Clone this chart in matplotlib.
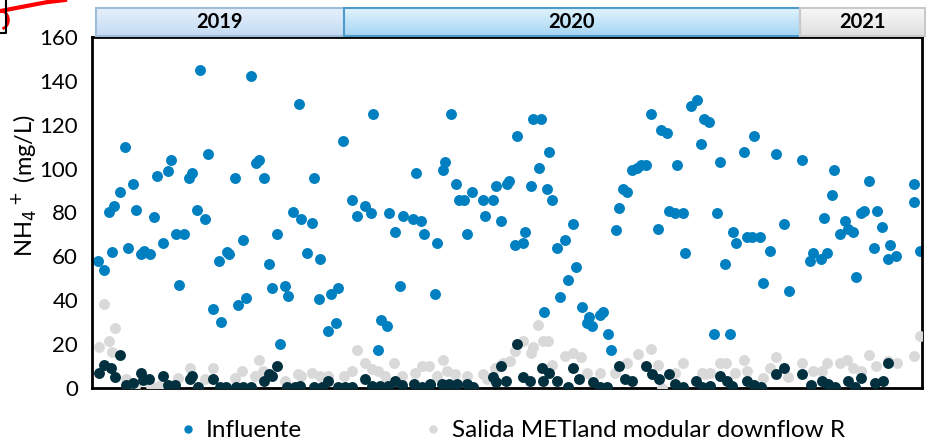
import matplotlib
matplotlib.use("Agg")
import matplotlib.pyplot as plt
import numpy as np
from matplotlib.patches import Rectangle
from matplotlib.lines import Line2D

plt.rcParams['font.family'] = ['Lato', 'DejaVu Sans']

# time axis in months counted from Jan 2019 (12 = Jan 2020, 24 = Jan 2021)
x_inf = [5.53, 5.68, 5.82, 5.89, 5.95, 6.11, 6.24, 6.32, 6.45, 6.53, 6.66, 6.74, 6.89, 7.00,
         7.08, 7.24, 7.37, 7.45, 7.58, 7.66, 7.79, 7.92, 8.00, 8.13, 8.21, 8.34, 8.42, 8.55,
         8.71, 8.76, 8.92, 8.97, 9.13, 9.21, 9.34, 9.42, 9.55, 9.68, 9.76, 9.89, 10.03, 10.11,
         10.24, 10.32, 10.45, 10.53, 10.66, 10.82, 10.87, 11.03, 11.16, 11.21, 11.34, 11.38,
         11.58, 11.66, 11.79, 11.84, 11.97, 12.21, 12.34, 12.55, 12.71, 12.76, 12.89, 12.97,
         13.13, 13.18, 13.34, 13.47, 13.55, 13.82, 13.89, 14.03, 14.11, 14.26, 14.39, 14.45,
         14.61, 14.66, 14.82, 14.95, 15.03, 15.16, 15.24, 15.37, 15.66, 15.71, 15.92, 16.00,
         16.13, 16.29, 16.34, 16.50, 16.55, 16.71, 16.76, 16.92, 16.97, 17.13, 17.18, 17.26,
         17.34, 17.39, 17.47, 17.61, 17.68, 17.82, 17.89, 18.03, 18.11, 18.26, 18.39, 18.45,
         18.53, 18.74, 18.82, 18.95, 19.03, 19.16, 19.24, 19.34, 19.45, 19.58, 19.71, 19.82,
         19.95, 20.08, 20.26, 20.34, 20.50, 20.55, 20.71, 20.76, 20.92, 20.97, 21.13, 21.29,
         21.39, 21.47, 21.61, 21.74, 21.82, 21.89, 22.03, 22.16, 22.24, 22.32, 22.53, 22.61,
         22.74, 22.79, 22.95, 23.03, 23.21, 23.37, 23.58, 23.71, 24.05, 24.26, 24.34, 24.55,
         24.63, 24.71, 24.84, 24.89, 25.05, 25.18, 25.26, 25.39, 25.47, 25.61, 25.68, 25.82,
         25.95, 26.03, 26.16, 26.32, 26.37, 26.53, 27.00, 27.00, 27.16]
y_inf = [58, 54, 80, 62, 83, 89.5, 110, 64, 93, 81, 61, 62.5, 61, 78,
         96.5, 66, 99, 104, 70, 47, 70, 95.5, 98, 81, 145, 77, 106.5, 36,
         58, 30, 62, 61, 95.5, 38, 67.5, 41, 142, 102.5, 104, 95.5, 56.5, 45.5,
         70, 20, 46.5, 42, 80, 129.5, 77, 61.5, 75, 95.5, 40.7, 59,
         26, 43, 29.7, 45.4, 112.6, 85.8, 78.3, 83, 79.7, 124.8, 17.5, 31,
         28.3, 79.7, 71.2, 46.6, 78.3, 77, 98, 75.9, 70, 1, 43, 66,
         99.2, 102.9, 124.8, 93, 85.8, 85.8, 70, 89.5, 85.8, 78.3, 85.8, 92,
         75.9, 93, 94.3, 65, 115, 66, 71.2, 92, 122.4, 100.3, 122.4, 34.6,
         90.7, 107.6, 85.8, 63.9, 41.7, 67.5, 49, 74.8, 55.3, 36.9, 29.7, 32.2,
         28.3, 33.4, 34.6, 24.8, 17.5, 72.2, 82.1, 90.7, 89.5, 99.2, 100.4, 101.6,
         101.6, 124.8, 72.4, 117.5, 116.3, 80.9, 79.7, 101.6, 79.7, 61.4, 128.5, 131.2,
         111.4, 122.4, 121.1, 24.8, 79.7, 102.9, 56.5, 24.8, 71.2, 66, 107.7, 68.7,
         68.7, 115, 68.7, 48, 62.6, 106.5, 74.8, 44.3, 104, 57.7, 61.4, 58.8,
         77.3, 61.4, 88, 99.2, 70, 76, 72.4, 71.2, 50.4, 79.7, 80.9, 94.3,
         63.9, 80.9, 73.6, 59, 65, 60.2, 93, 84.6, 62.6]

x_sal = [5.55, 5.68, 5.82, 5.89, 5.97, 6.26, 6.50, 6.92, 7.13, 7.63, 7.95, 8.34, 8.55, 9.13,
         9.32, 9.66, 9.76, 9.87, 10.45, 10.79, 10.87, 11.16, 11.37, 11.58, 12.00, 12.21, 12.34,
         12.55, 12.74, 12.89, 13.08, 13.32, 13.53, 13.87, 14.05, 14.24, 14.45, 14.61, 14.71,
         14.92, 15.24, 15.66, 15.76, 15.97, 16.18, 16.37, 16.50, 16.71, 16.92, 16.97, 17.11,
         17.24, 17.37, 17.47, 17.82, 18.03, 18.24, 18.39, 18.74, 19.13, 19.45, 19.74, 20.08,
         20.26, 20.37, 20.71, 20.92, 21.42, 21.50, 21.63, 21.89, 22.05, 22.29, 22.53, 22.61,
         23.03, 23.21, 23.37, 23.68, 24.05, 24.34, 24.58, 24.71, 25.05, 25.24, 25.39, 25.61,
         25.82, 26.00, 26.32, 26.55, 27.00, 27.16]
y_sal = [18.9, 38.2, 21.2, 16.3, 27.3, 4, 1, 1, 1, 4.7, 9, 4, 9, 4.4,
         7.8, 5.5, 12.7, 7.8, 3.2, 6.2, 5.5, 7, 5.5, 5.5, 5.5, 7.8, 17.4,
         11.6, 8.5, 7.8, 5.5, 11.6, 5.5, 7, 10, 10, 5.5, 12.7, 7.8,
         6.2, 5.5, 6.2, 4, 9.3, 11.6, 12.3, 17, 21.5, 16.1, 18.7, 28.5,
         21.5, 21.5, 10.5, 14.6, 16.1, 13.9, 7, 7, 7, 11.6, 15.4, 17.7,
         10.5, 0.2, 7, 11.6, 7, 6.4, 7, 11.6, 11.6, 7, 12.7, 7.8,
         4.4, 9, 14.2, 5, 11.6, 7.8, 7.8, 11.6, 11.6, 12.7, 9, 7.8,
         15, 10, 12.3, 11.6, 14.6, 23.8]

x_ret = [5.55, 5.68, 5.87, 5.97, 6.11, 6.26, 6.45, 6.66, 6.71, 6.87, 7.24, 7.37, 7.55, 7.95,
         8.00, 8.16, 8.55, 8.74, 8.89, 9.16, 9.34, 9.55, 9.89, 10.03, 10.11, 10.24, 10.50,
         10.71, 10.84, 11.21, 11.42, 11.58, 11.84, 12.03, 12.21, 12.55, 12.74, 12.95, 13.16,
         13.34, 13.53, 13.84, 14.05, 14.26, 14.58, 14.76, 14.97, 15.24, 15.39, 15.92, 16.00,
         16.13, 16.26, 16.55, 16.71, 16.89, 17.21, 17.24, 17.39, 17.61, 17.89, 18.03, 18.18,
         18.55, 18.74, 18.92, 19.24, 19.39, 19.58, 19.95, 20.11, 20.29, 20.55, 20.71, 20.92,
         21.26, 21.42, 21.63, 21.89, 22.08, 22.21, 22.61, 22.79, 22.97, 23.37, 23.58, 24.05,
         24.29, 24.58, 24.74, 24.92, 25.26, 25.45, 25.61, 25.97, 26.18, 26.32]
y_ret = [6.7, 10.5, 9.3, 5.2, 15, 1.4, 2.4, 6.7, 3.7, 4, 5.3, 1.4, 1.4, 4,
         5.5, 0.6, 4, 0.6, 0.6, 0.6, 0.6, 0.6, 3.2, 6.5, 5.5, 10.2, 0.5,
         0.5, 0.9, 0.5, 0.5, 3.2, 0.5, 0.5, 0.5, 4, 0.9, 0.9, 0.9,
         3.2, 1.4, 1.7, 0.5, 1.7, 1.7, 1.7, 1.7, 1.7, 0.5, 5, 2.7,
         10, 3.2, 20, 5, 3.2, 9, 3.2, 7, 3.2, 0.5, 9, 4,
         2.9, 0.5, 0.5, 10, 4, 3.2, 10, 6.2, 4, 6.5, 1.7, 0.5,
         3.2, 0.5, 0.9, 5.5, 3.2, 0.9, 3.2, 1.4, 0.5, 6.5, 9, 6.5,
         1.4, 3.2, 1.7, 0.5, 3.2, 0.5, 4.4, 2.4, 3.2, 11.6]

years = ['2019', '2020', '2021']
year_start = [5.47, 12, 24]
year_end = [12, 24, 27.3]

c_inf = '#0080c0'
c_sal = '#d9d9d9'
c_ret = '#03303f'

fig = plt.figure(figsize=(9.29, 4.43), dpi=100)
ax = fig.add_axes([0.099, 0.1242, 0.8935, 0.7923])

ax.scatter(x_inf, y_inf, s=62, color=c_inf, linewidths=0, zorder=2)
ax.scatter(x_sal, y_sal, s=62, color=c_sal, linewidths=0, zorder=3)
ax.scatter(x_ret, y_ret, s=62, color=c_ret, linewidths=0, zorder=4)

ax.set_xlim(5.37, 27.21)
ax.set_ylim(0, 160)
ax.set_yticks(np.arange(0, 161, 20))
ax.set_xticks([])
ax.tick_params(axis='y', length=0, labelsize=16, pad=10)
ax.set_ylabel(r'NH$_4$$^+$ (mg/L)', fontsize=17)
ax.yaxis.set_label_coords(-0.064, 0.578)
for side in ['left', 'bottom', 'right', 'top']:
    ax.spines[side].set_linewidth(2)
    ax.spines[side].set_color('black')

# year header bands above the plot
hx = fig.add_axes([0.099, 0.9165, 0.8935, 0.0677])
hx.set_xlim(ax.get_xlim())
hx.set_ylim(0, 1)
hx.axis('off')
band_colors = [('#e6f0fb', '#c3dbf3', '#9fbcd9'),
               ('#e0f3fd', '#a5d5f3', '#4d9bcb'),
               ('#f8f8f8', '#e0e0e0', '#c9c9c9')]
for name, x0, x1, (top, bot, edge) in zip(years, year_start, year_end, band_colors):
    grad = np.linspace(0, 1, 50).reshape(-1, 1)
    cmap = matplotlib.colors.LinearSegmentedColormap.from_list('b', [top, bot])
    hx.imshow(grad, extent=(x0, x1, 0.04, 0.96), aspect='auto', cmap=cmap,
              origin='upper', clip_on=False, zorder=1)
    hx.add_patch(Rectangle((x0, 0.04), x1 - x0, 0.92, fill=False, edgecolor=edge,
                           linewidth=1.5, clip_on=False, zorder=2))
    hx.text((x0 + x1) / 2, 0.5, name, ha='center', va='center', fontsize=14.5,
            fontweight='bold', zorder=3)

# legend (first two series only)
handles = [Line2D([], [], marker='o', linestyle='', color=c_inf, markersize=5),
           Line2D([], [], marker='o', linestyle='', color=c_sal, markersize=5)]
fig.legend(handles, ['Influente', 'Salida METland modular downflow R'],
           loc='lower left', bbox_to_anchor=(0.168, -0.045), ncol=2, frameon=False,
           fontsize=17.5, handletextpad=0.35, columnspacing=5.0, handlelength=0.8)

# red pen mark in the corner
fig.add_artist(Line2D([0.0, 0.025, 0.05, 0.07], [0.975, 0.985, 0.995, 1.0],
                      color='red', linewidth=3, transform=fig.transFigure))
t = np.linspace(-1.2, 1.4, 30)
fig.add_artist(Line2D(0.001 + 0.008 * np.cos(t), 0.955 + 0.02 * np.sin(t),
                      color='red', linewidth=2, transform=fig.transFigure))
fig.add_artist(Line2D([0.0, 0.006, 0.006], [0.925, 0.925, 1.0],
                      color='black', linewidth=1.5, transform=fig.transFigure))

fig.savefig('out.png', dpi=100)
